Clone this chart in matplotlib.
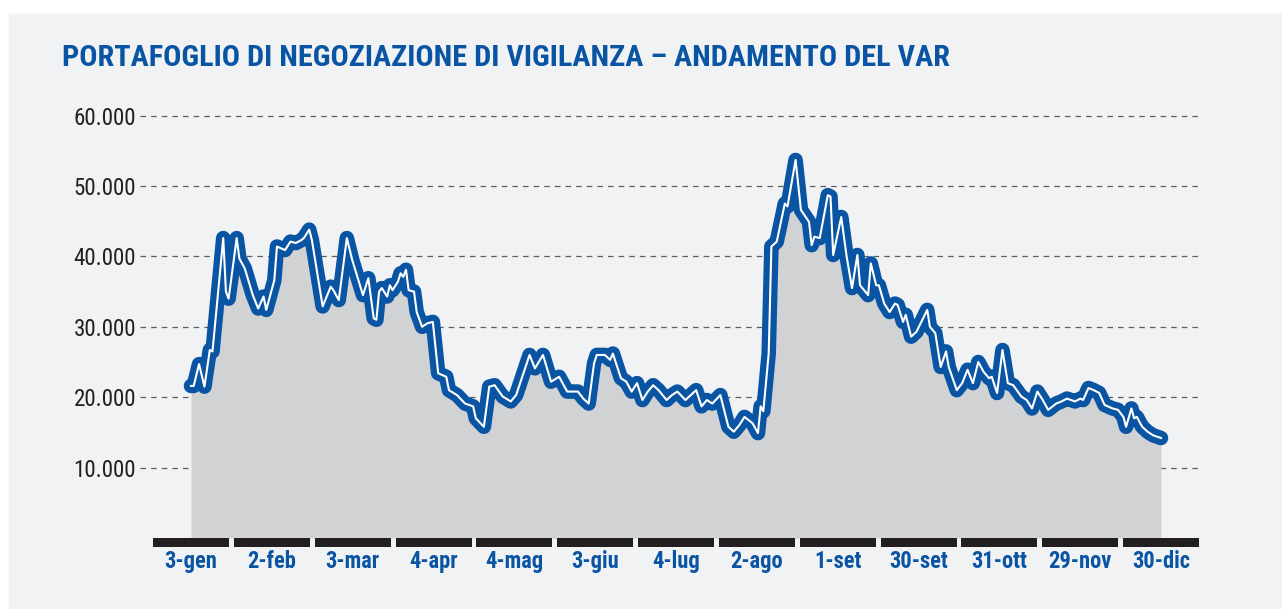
import matplotlib
matplotlib.use("Agg")
import matplotlib.pyplot as plt
from matplotlib.patches import Rectangle
from matplotlib import font_manager

# ---------------- data ----------------
# day offset from 3 January and VaR value
giorni = [0, 1, 3, 5, 7, 8, 12, 13, 14, 17, 18, 20, 23, 25, 27, 28, 31, 32, 35, 37,
          39, 41, 42, 44, 45, 49, 52, 53, 55, 58, 60, 64, 66, 68, 69, 70, 71, 73, 74, 75,
          77, 78, 79, 80, 81, 83, 84, 86, 88, 90, 92, 95, 96, 99, 102, 105, 106, 109, 111, 113,
          116, 119, 121, 126, 128, 131, 134, 137, 140, 144, 146, 148, 150, 151, 154, 156, 157, 160, 162, 164,
          166, 168, 170, 172, 174, 177, 179, 181, 184, 188, 190, 192, 194, 197, 200, 202, 204, 206, 209, 211,
          212, 213, 215, 216, 218, 221, 222, 225, 227, 230, 231, 232, 234, 237, 238, 239, 242, 244, 246, 248,
          249, 252, 253, 255, 256, 258, 260, 262, 263, 265, 266, 268, 270, 274, 275, 277, 279, 281, 282, 285,
          287, 289, 291, 293, 295, 297, 298, 300, 302, 304, 306, 309, 311, 313, 315, 317, 319, 322, 324, 326,
          329, 331, 332, 334, 336, 338, 340, 343, 345, 347, 348, 350, 351, 352, 354, 356, 358, 361]
var = [21.6, 21.6, 24.7, 21.5, 26.7, 26.5, 42.6, 35.0, 34.0, 42.6, 39.7, 38.3, 34.5, 32.6, 34.3, 32.4, 36.6, 41.4, 40.9, 42.1,
       41.9, 42.3, 42.6, 43.8, 42.3, 32.9, 35.7, 35.2, 33.8, 42.6, 39.5, 34.5, 36.9, 31.2, 31.0, 35.0, 35.5, 34.3, 35.9, 35.2,
       36.4, 37.6, 37.1, 38.1, 35.2, 35.0, 32.1, 30.0, 30.5, 30.7, 23.4, 22.9, 21.0, 20.3, 19.1, 18.7, 17.0, 15.8, 21.5, 21.7,
       20.1, 19.4, 20.3, 26.0, 24.1, 26.0, 22.2, 22.9, 20.8, 20.8, 19.8, 19.1, 24.8, 26.0, 26.0, 25.3, 26.2, 22.7, 22.2, 20.8,
       22.0, 19.6, 20.8, 21.7, 21.0, 19.6, 20.3, 20.8, 19.6, 21.0, 18.7, 19.6, 19.1, 20.3, 15.8, 15.1, 16.0, 17.2, 16.3, 14.9,
       18.7, 18.0, 26.2, 41.4, 42.1, 47.5, 47.1, 53.7, 46.6, 44.9, 41.6, 42.8, 42.6, 48.7, 48.5, 40.2, 45.6, 40.0, 35.5, 40.2,
       35.9, 34.5, 39.0, 35.9, 35.9, 33.3, 32.1, 33.3, 33.1, 30.7, 31.7, 28.6, 29.3, 32.4, 30.0, 29.1, 24.3, 26.5, 24.3, 21.0,
       22.0, 23.9, 22.0, 25.0, 23.6, 22.7, 22.9, 20.6, 26.7, 22.0, 21.7, 20.1, 19.6, 18.4, 20.8, 19.6, 18.2, 19.1, 19.4, 19.8,
       19.4, 19.8, 19.6, 21.3, 21.0, 20.6, 18.9, 18.4, 18.2, 17.2, 15.8, 18.4, 17.0, 17.2, 15.8, 15.1, 14.6, 14.2]
var = [v * 1000 for v in var]

etichette_x = ["3-gen", "2-feb", "3-mar", "4-apr", "4-mag", "3-giu", "4-lug",
               "2-ago", "1-set", "30-set", "31-ott", "29-nov", "30-dic"]
valori_y = [10000, 20000, 30000, 40000, 50000, 60000]
etichette_y = ["10.000", "20.000", "30.000", "40.000", "50.000", "60.000"]
titolo = "PORTAFOGLIO DI NEGOZIAZIONE DI VIGILANZA \u2013 ANDAMENTO DEL VAR"

# ---------------- style ----------------
BLUE = "#0a55a3"
PANEL = "#f1f2f4"
FILL = "#d1d2d4"
BLACK = "#231f20"

avail = {f.name for f in font_manager.fontManager.ttflist}
def pick(cands):
    for c in cands:
        if c in avail:
            return c
    return "DejaVu Sans"
FONT_B = pick(["Liberation Sans Narrow", "Roboto Condensed", "Roboto", "Liberation Sans"])
FONT_L = pick(["Liberation Sans Narrow", "Roboto Condensed", "Roboto", "Liberation Sans"])

W, H = 1282, 609
fig = plt.figure(figsize=(W / 100, H / 100), dpi=100)
fig.patch.set_facecolor("white")
fig.patches.append(Rectangle((9 / W, 0), (W - 9) / W, (H - 14) / H,
                             transform=fig.transFigure, color=PANEL, zorder=-10))

def fx(px):
    return px / W
def fy(py):
    return 1 - py / H

# axes: x pixel 140..1198, y pixel 100..547
ax = fig.add_axes([fx(140), fy(547), (1198 - 140) / W, (547 - 100) / H])
ax.set_zorder(1)
ax.set_facecolor("none")
for s in ax.spines.values():
    s.set_visible(False)
ax.set_xticks([])
ax.set_yticks([])

days_per_px = 361 / 970
ax.set_xlim((140 - 191) * days_per_px, (1198 - 191) * days_per_px)
px_per_10k = 70.4
ax.set_ylim(-(547 - 538) / px_per_10k * 10000, (538 - 100) / px_per_10k * 10000)

# grid
for v in valori_y:
    ax.axhline(v, color="#5f5f5f", lw=0.9, ls=(0, (4.5, 4.0)), zorder=0.5)

# fill + line
ax.fill_between(giorni, var, 0, color=FILL, lw=0, zorder=1)
ax.plot(giorni, var, color=BLUE, lw=10.5, solid_joinstyle="round",
        solid_capstyle="round", zorder=2)
ax.plot(giorni, var, color="white", lw=1.5, solid_joinstyle="round", zorder=3)

# x-axis black segments
month_step = 361 / 12
tick_pos = [i * month_step for i in range(len(etichette_x))]
seg_h = (547 - 538) / px_per_10k * 10000
ax.bar(tick_pos, -seg_h, bottom=0, width=76 * days_per_px, color=BLACK,
       lw=0, zorder=4, clip_on=False)

fig.canvas.draw()
r = fig.canvas.get_renderer()

def fit(t, target_w):
    w = t.get_window_extent(r).width
    t.set_fontsize(t.get_fontsize() * target_w / w)
    return t.get_fontsize()

# title
tt = fig.text(fx(62), fy(66), titolo, color=BLUE, fontsize=20, fontweight="bold",
              family=FONT_B, ha="left", va="baseline")
fit(tt, 886)

# y labels
ylabs = []
for v, lab in zip(valori_y, etichette_y):
    y_px = 538 - v / 10000 * px_per_10k
    t = fig.text(fx(136), fy(y_px), lab, color=BLACK, fontsize=15, family=FONT_L,
                 ha="right", va="center_baseline")
    ylabs.append(t)
fs = fit(ylabs[-1], 63)
for t in ylabs:
    t.set_fontsize(fs)

# x labels
xlabs = []
for i, lab in enumerate(etichette_x):
    t = fig.text(fx(191 + i * 970 / 12), fy(568), lab, color=BLUE, fontsize=14,
                 fontweight="bold", family=FONT_B, ha="center", va="baseline")
    xlabs.append(t)
fs = fit(xlabs[0], 53)
for t in xlabs:
    t.set_fontsize(fs)

fig.savefig("out.png", dpi=100, facecolor=fig.get_facecolor())
